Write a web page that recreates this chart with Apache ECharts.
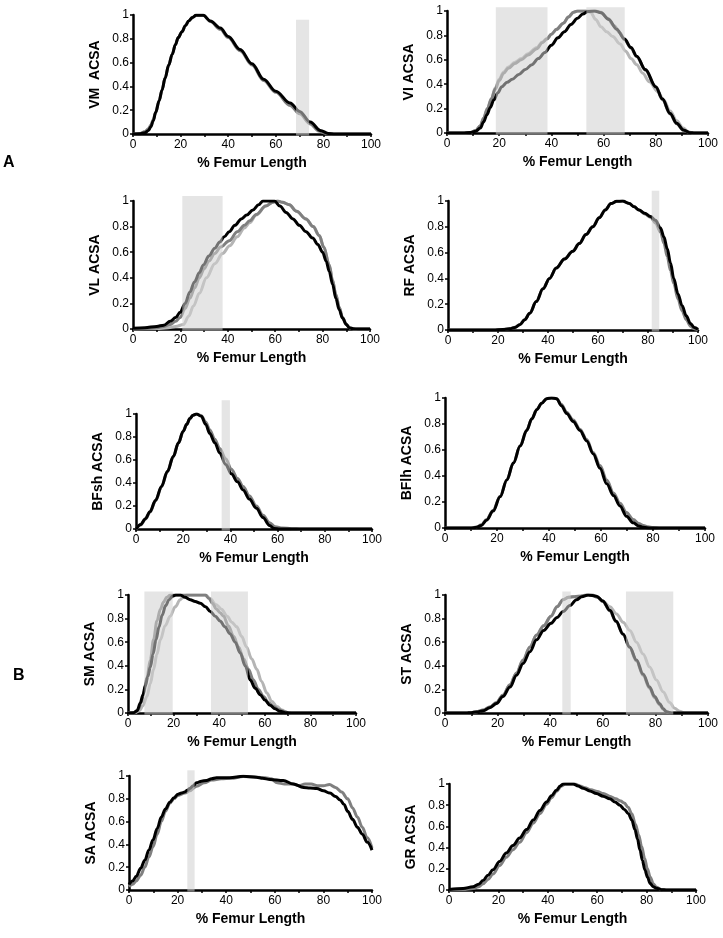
<!DOCTYPE html>
<html><head><meta charset="utf-8">
<script src="https://cdn.jsdelivr.net/npm/echarts@6/dist/echarts.min.js"></script>
<style>html,body{margin:0;padding:0;background:#fff}#c{width:723px;height:938px}</style>
</head><body><div id="c"></div>
<script>
// ---------- DATA ----------
const xTickLabels = [0, 20, 40, 60, 80, 100];
const yTickLabels = [0, 0.2, 0.4, 0.6, 0.8, 1];
const panelNames = ['VM  ACSA','VI ACSA','VL ACSA','RF ACSA','BFsh ACSA','BFlh ACSA','SM ACSA','ST ACSA','SA ACSA','GR ACSA'];
const xTitle = '% Femur Length';

const VM_black = [[0,0],[3,0.003],[5,0.01],[6.5,0.03],[7.5,0.06],[8.5,0.11],[9.5,0.18],[11,0.28],[12.2,0.37],[13.5,0.47],[15,0.58],[16.5,0.67],[17.8,0.75],[19,0.81],[20.6,0.86],[22,0.91],[23.4,0.95],[25,0.98],[26.5,0.997],[29.5,0.997],[32.5,0.95],[36.7,0.89],[40,0.82],[45,0.71],[50,0.59],[54.9,0.46],[60,0.36],[66,0.26],[70,0.19],[74.5,0.10],[78.7,0.03],[82,0.005],[85,0],[100,0]];
const VM_dark = [[0,0],[3,0.005],[5,0.02],[6.5,0.045],[7.5,0.075],[8.5,0.12],[9.5,0.18],[11,0.28],[12.2,0.37],[13.5,0.47],[15,0.58],[16.5,0.67],[17.8,0.75],[19,0.81],[20.6,0.86],[22,0.91],[23.4,0.95],[25,0.98],[26.5,0.997],[29.5,0.997],[32.5,0.945],[36.7,0.88],[40,0.81],[45,0.70],[50,0.58],[54.9,0.45],[60,0.35],[66,0.24],[70,0.17],[74.5,0.085],[78,0.025],[81,0.005],[84,0],[100,0]];
const VM_shade = [[68.5,74,0.96]];

const VI_black = [[0,0],[6,0],[9,0.004],[11,0.015],[12.8,0.04],[14,0.09],[15.3,0.15],[16.6,0.21],[17.9,0.27],[19.5,0.33],[21,0.38],[23,0.415],[25,0.44],[27.5,0.48],[30,0.52],[32.5,0.56],[35,0.61],[37.5,0.66],[40,0.72],[42.5,0.78],[45,0.83],[47.5,0.89],[50,0.94],[52,0.975],[54,0.995],[56.5,1.0],[59,0.985],[62,0.93],[65,0.85],[68,0.77],[70.5,0.70],[72.7,0.63],[76,0.52],[80,0.38],[82.5,0.28],[85.5,0.16],[88,0.08],[90.6,0.025],[93,0.003],[95,0],[100,0]];
const VI_dark = [[0,0],[6,0],[9,0.005],[11,0.02],[12.8,0.06],[14,0.12],[15.5,0.2],[17,0.28],[18.5,0.36],[20,0.43],[21.7,0.49],[23.5,0.53],[26,0.57],[28.5,0.60],[31,0.64],[34.4,0.69],[36.5,0.74],[38.3,0.77],[40,0.81],[42,0.85],[44.6,0.90],[46.5,0.95],[48.5,0.99],[50,1.0],[53,1.0],[57,1.0],[59,0.99],[61.5,0.94],[64,0.88],[66.3,0.82],[68,0.765],[70.5,0.695],[72.7,0.625],[76,0.515],[80,0.375],[82.5,0.275],[85.5,0.155],[88,0.075],[90.6,0.022],[93,0.002],[95,0],[100,0]];
const VI_light = [[0,0],[6,0],[9,0.005],[11,0.02],[12.8,0.06],[14,0.12],[15.5,0.2],[17,0.28],[18.5,0.37],[20,0.44],[21.7,0.50],[23.5,0.54],[26,0.58],[28.5,0.61],[31,0.65],[34.4,0.70],[36.5,0.745],[38.3,0.775],[40,0.81],[42,0.85],[44.6,0.90],[46.5,0.95],[48.5,0.99],[50,1.0],[53,1.0],[55,0.99],[57,0.93],[59,0.87],[61.2,0.83],[63.5,0.79],[66.3,0.73],[68.5,0.67],[70.5,0.61],[72.7,0.56],[75,0.49],[77.5,0.42],[80.8,0.34],[83,0.27],[85.5,0.18],[88,0.10],[90.5,0.04],[92.5,0.01],[94,0],[100,0]];
const VI_shade = [[18.7,38.5,1.03],[53.4,68.1,1.03]];

const VL_black = [[0,0.005],[5,0.01],[10,0.02],[13,0.03],[15.7,0.06],[18,0.09],[19.9,0.13],[22,0.2],[24,0.29],[26,0.37],[28,0.44],[29.7,0.5],[32,0.57],[34.5,0.63],[36.6,0.68],[38.5,0.72],[40.6,0.76],[43,0.81],[45.7,0.86],[48,0.89],[50.6,0.93],[53,0.97],[54.8,1.0],[59.7,1.0],[62,0.96],[64.6,0.91],[67.5,0.86],[70.2,0.81],[73,0.76],[75.8,0.71],[78,0.66],[80,0.6],[81.5,0.53],[82.8,0.45],[84.2,0.35],[85.6,0.24],[87,0.15],[88.4,0.085],[90,0.035],[91.2,0.01],[93,0.002],[95,0],[100,0]];
const VL_dark = [[0,0],[5,0.003],[10,0.01],[13,0.02],[15.7,0.035],[18,0.06],[19.9,0.09],[22,0.16],[24,0.24],[26,0.32],[28,0.4],[30,0.47],[32,0.53],[34.5,0.59],[37,0.64],[40.6,0.69],[44,0.76],[47,0.81],[49.2,0.845],[52,0.895],[56,0.96],[59,0.99],[61,1.0],[63,0.99],[66,0.97],[69,0.92],[73,0.86],[76,0.8],[78.6,0.73],[80.5,0.64],[82.8,0.5],[84.2,0.38],[85.6,0.27],[87,0.17],[88.4,0.09],[90,0.035],[91.5,0.008],[93,0],[100,0]];
const VL_light = [[0,0],[10,0.003],[15,0.01],[18,0.02],[21.3,0.035],[23.5,0.1],[25.5,0.18],[28,0.28],[31,0.4],[34.5,0.51],[37.8,0.59],[40.8,0.65],[44,0.72],[47,0.79],[49.2,0.83],[52,0.89],[56,0.96],[59,0.99],[61,1.0],[63,0.99],[66,0.97],[69,0.92],[73,0.86],[76,0.8],[78.6,0.73],[80.5,0.64],[82.8,0.5],[84.2,0.38],[85.6,0.27],[87,0.17],[88.4,0.09],[90,0.035],[91.5,0.008],[93,0],[100,0]];
const VL_shade = [[20.8,37.8,1.04]];

const RF_black = [[0,0],[18,0],[22,0.003],[24.8,0.01],[26.8,0.02],[28.7,0.04],[30.7,0.08],[32.7,0.13],[35.3,0.22],[38,0.32],[40.6,0.4],[43.3,0.48],[46.6,0.55],[49.9,0.61],[52.5,0.67],[55.2,0.74],[57.9,0.8],[60.5,0.87],[62.9,0.93],[65.2,0.98],[67.5,0.998],[69.8,1.0],[72.5,0.98],[74.5,0.955],[76.4,0.93],[78.7,0.905],[81,0.88],[83,0.85],[85,0.79],[86.4,0.72],[87.7,0.63],[89,0.52],[90.3,0.4],[92,0.28],[93.6,0.19],[95.3,0.11],[97,0.05],[98.5,0.02],[100,0.005]];
const RF_dark = [[0,0],[18,0],[22,0.004],[24.8,0.012],[26.8,0.022],[28.7,0.042],[30.7,0.08],[32.7,0.13],[35.3,0.22],[38,0.32],[40.6,0.4],[43.3,0.48],[46.6,0.55],[49.9,0.61],[52.5,0.67],[55.2,0.74],[57.9,0.8],[60.5,0.87],[62.9,0.93],[65.2,0.98],[67.5,0.998],[69.8,1.0],[72.5,0.98],[74.5,0.955],[76.4,0.93],[78.7,0.9],[81,0.875],[83,0.83],[85,0.76],[86.4,0.67],[87.7,0.57],[89,0.46],[90.3,0.36],[92,0.24],[93.6,0.15],[95.3,0.08],[97,0.03],[98.5,0.01],[100,0]];
const RF_shade = [[81.5,84.5,1.08]];

const BFsh_black = [[0,0],[2,0.04],[4,0.09],[5.9,0.15],[8.3,0.25],[10.8,0.37],[13.3,0.5],[15.8,0.63],[18,0.75],[20,0.85],[21.5,0.91],[22.8,0.96],[24.2,0.99],[25.6,1.0],[27.7,0.98],[29.5,0.91],[31.3,0.83],[33.4,0.75],[35.5,0.66],[38,0.56],[40.4,0.48],[43,0.41],[45.4,0.34],[48,0.26],[51,0.18],[53.8,0.1],[56.6,0.03],[58.5,0.005],[61,0],[100,0]];
const BFsh_dark = [[0,0],[2,0.035],[4,0.085],[5.9,0.145],[8.3,0.245],[10.8,0.365],[13.3,0.5],[15.8,0.63],[18,0.75],[20,0.85],[21.5,0.91],[22.8,0.96],[24.2,0.99],[25.6,1.0],[27.7,0.985],[29.5,0.93],[31.3,0.86],[33.4,0.78],[35.5,0.7],[38,0.61],[40.4,0.52],[43,0.44],[45.4,0.37],[48,0.29],[51,0.2],[53.8,0.12],[56.6,0.055],[59,0.02],[62,0.008],[66,0.003],[70,0],[100,0]];
const BFsh_shade = [[36.3,39.8,1.12]];

const BFlh_black = [[0,0],[10,0],[12.2,0.005],[14,0.02],[16,0.06],[18.5,0.13],[21.2,0.24],[23.8,0.37],[26.3,0.5],[28.9,0.63],[31.4,0.75],[33.4,0.84],[35.3,0.91],[37.2,0.96],[39.1,0.995],[41,1.0],[42.9,0.995],[44.8,0.94],[46.8,0.88],[49.3,0.82],[51.9,0.75],[54.5,0.67],[57,0.57],[59.6,0.46],[62.2,0.34],[64.8,0.25],[67.3,0.17],[69.8,0.09],[72.4,0.04],[74.5,0.015],[76.3,0.005],[79,0],[100,0]];
const BFlh_dark = [[0,0],[10,0],[12.2,0.007],[14,0.025],[16,0.065],[18.5,0.135],[21.2,0.245],[23.8,0.37],[26.3,0.5],[28.9,0.63],[31.4,0.75],[33.4,0.84],[35.3,0.91],[37.2,0.96],[39.1,0.995],[41,1.0],[42.9,0.995],[44.8,0.95],[46.8,0.89],[49.3,0.83],[51.9,0.76],[54.5,0.68],[57,0.58],[59.6,0.48],[62.2,0.37],[64.8,0.27],[67.3,0.19],[69.8,0.12],[72.4,0.065],[74.5,0.035],[76.3,0.02],[78,0.01],[80,0.004],[83,0],[100,0]];
const BFlh_shade = [];

const SM_black = [[0,0],[2.5,0.002],[4,0.02],[5.4,0.085],[6.5,0.15],[7.6,0.23],[8.7,0.31],[9.8,0.39],[11,0.5],[12.3,0.62],[13.6,0.73],[15,0.83],[16.5,0.91],[18,0.96],[19.5,0.99],[21,1.0],[23,1.0],[25,0.98],[27.3,0.96],[29.5,0.945],[31.7,0.93],[34,0.9],[36.1,0.86],[38.3,0.82],[40.4,0.78],[42.5,0.73],[44.8,0.67],[47,0.6],[49.2,0.51],[51.4,0.4],[53.6,0.28],[55.8,0.21],[58,0.155],[60,0.11],[62.3,0.065],[64.5,0.035],[66.7,0.014],[69,0.003],[71,0],[100,0]];
const SM_dark = [[0,0],[3,0.003],[4.5,0.03],[5.8,0.09],[6.9,0.17],[8.3,0.3],[9.8,0.45],[11.2,0.62],[12.7,0.78],[14.2,0.88],[15.6,0.94],[17,0.98],[18.5,1.0],[22,1.0],[26,1.0],[30,1.0],[33.9,1.0],[35.5,0.97],[37,0.93],[38.8,0.88],[40.4,0.85],[41.9,0.82],[44,0.74],[46.3,0.65],[48.5,0.56],[50.7,0.46],[52.8,0.37],[55,0.28],[57.2,0.2],[59.4,0.14],[61.6,0.09],[63.8,0.056],[66,0.03],[68.2,0.014],[70,0.004],[72,0],[100,0]];
const SM_light = [[0,0],[3,0.002],[5,0.02],[6.5,0.06],[8.3,0.14],[9.8,0.25],[11.2,0.37],[12.7,0.5],[14.2,0.62],[16.3,0.74],[18.5,0.82],[20.7,0.9],[22.9,0.96],[24.5,0.99],[25.8,1.0],[30,1.0],[34,1.0],[36,0.97],[38.5,0.92],[41,0.88],[43.5,0.82],[45.5,0.77],[47.7,0.73],[49.8,0.65],[52,0.56],[54.2,0.46],[56.5,0.37],[58.5,0.27],[60.9,0.17],[63,0.1],[65.3,0.056],[67.5,0.025],[69.5,0.007],[71,0],[100,0]];
const SM_shade = [[7.2,19.6,1.03],[36.4,52.6,1.03]];

const ST_black = [[0,0],[8,0],[10,0.003],[12,0.008],[14.6,0.02],[17,0.045],[19.6,0.08],[22,0.14],[24.7,0.22],[27.2,0.32],[29.7,0.42],[32.3,0.52],[34.8,0.62],[37.5,0.7],[40.3,0.76],[42.6,0.81],[44.9,0.86],[47.5,0.91],[50,0.96],[52,0.985],[54.4,1.0],[57.6,0.99],[60,0.95],[62.7,0.87],[65,0.78],[67.7,0.67],[70.2,0.56],[72.8,0.45],[75.3,0.33],[77.8,0.22],[79.7,0.14],[81.6,0.08],[83,0.035],[84.2,0.01],[86,0],[100,0]];
const ST_dark = [[0,0],[8,0],[10,0.003],[12,0.01],[14.6,0.025],[17,0.05],[19.6,0.09],[22,0.15],[24.7,0.24],[27.2,0.34],[29.7,0.45],[32.3,0.56],[34.8,0.66],[37.5,0.74],[40.3,0.82],[42.6,0.9],[44.9,0.96],[47,0.98],[48.7,0.985],[51,0.99],[53.8,1.0],[56,1.0],[58,0.98],[60,0.945],[62.7,0.865],[65,0.775],[67.7,0.665],[70.2,0.555],[72.8,0.44],[75.3,0.32],[77.8,0.21],[79.7,0.13],[81.6,0.07],[83,0.03],[84.5,0.008],[86,0],[100,0]];
const ST_light = [[0,0],[8,0],[10,0.003],[12,0.01],[14.6,0.025],[17,0.05],[19.6,0.09],[22,0.15],[24.7,0.24],[27.2,0.34],[29.7,0.45],[32.3,0.56],[34.8,0.66],[37.5,0.74],[40.3,0.82],[42.6,0.9],[44.9,0.96],[47,0.98],[48.7,0.985],[51,0.99],[53.8,1.0],[56,1.0],[58,0.98],[60,0.95],[62.7,0.9],[65.2,0.84],[67.7,0.77],[70.3,0.7],[72.8,0.6],[75.3,0.5],[77.8,0.39],[80.4,0.28],[82.9,0.18],[85.4,0.09],[87.3,0.04],[89.2,0.015],[91,0],[100,0]];
const ST_shade = [[44.6,47.8,1.03],[68.8,86.8,1.03]];

const SA_black = [[0,0.05],[1.5,0.08],[3,0.12],[4.8,0.19],[6.5,0.26],[8.2,0.35],[9.9,0.44],[11.6,0.54],[13.3,0.64],[15,0.71],[16.8,0.77],[18.5,0.81],[20.2,0.84],[21.6,0.85],[23,0.86],[24,0.875],[25,0.89],[26.4,0.915],[27.8,0.94],[29.8,0.955],[31.9,0.96],[34,0.975],[36,0.985],[41.5,0.985],[47,0.997],[52.5,0.99],[55,0.98],[58,0.97],[63.5,0.96],[67.6,0.93],[71.8,0.9],[74.5,0.895],[77.3,0.89],[80,0.87],[82.7,0.85],[85,0.82],[86.9,0.79],[88.5,0.75],[90,0.69],[92,0.62],[94,0.55],[96,0.49],[98,0.42],[100,0.35]];
const SA_dark = [[0,0.03],[1.5,0.05],[3,0.08],[4.8,0.13],[6.5,0.2],[8.2,0.29],[9.9,0.38],[11.6,0.49],[13.3,0.6],[15,0.69],[16.8,0.76],[18.5,0.8],[20.2,0.83],[23,0.85],[25,0.87],[27.8,0.91],[31,0.94],[34,0.965],[38,0.975],[42,0.98],[47,0.995],[52.5,0.99],[56,0.985],[58.5,0.975],[61,0.94],[64,0.93],[67.6,0.93],[70,0.915],[72.5,0.93],[75,0.93],[77.5,0.915],[80,0.915],[82.5,0.925],[85,0.9],[87.5,0.86],[90,0.8],[92,0.72],[94,0.64],[96,0.55],[98,0.46],[100,0.37]];
const SA_shade = [[24,27,1.05]];

const GR_black = [[0,0.005],[5.7,0.015],[9.7,0.03],[12,0.055],[13.8,0.09],[15.8,0.14],[17.8,0.19],[20.5,0.27],[23.2,0.35],[25.9,0.42],[28.6,0.49],[31.4,0.57],[34.1,0.66],[36.8,0.75],[39.5,0.83],[41.5,0.89],[43.5,0.94],[45,0.98],[46.2,1.0],[50.3,1.0],[52.3,0.98],[54.3,0.96],[57,0.935],[59.7,0.91],[62.4,0.885],[65.1,0.86],[67.2,0.83],[69.2,0.8],[71,0.76],[72.6,0.72],[74,0.66],[75.3,0.57],[76.3,0.48],[77.3,0.38],[78.3,0.28],[79.3,0.19],[80.4,0.12],[81.4,0.063],[82.7,0.03],[84,0.016],[86,0.003],[88,0],[100,0]];
const GR_dark = [[0,0],[5.7,0.005],[9.7,0.015],[12,0.03],[13.8,0.06],[15.8,0.1],[17.8,0.15],[20.5,0.23],[23.2,0.31],[25.9,0.38],[28.6,0.45],[31.4,0.54],[34.1,0.63],[36.8,0.72],[39.5,0.81],[41.5,0.87],[43.5,0.93],[45.5,0.98],[47,1.0],[51,1.0],[53,0.98],[55,0.965],[57.5,0.945],[60,0.93],[62.5,0.91],[65,0.885],[67.5,0.86],[69.5,0.84],[71,0.82],[72.5,0.78],[74,0.72],[75.5,0.62],[76.8,0.52],[78,0.41],[79.2,0.3],[80.3,0.2],[81.5,0.12],[82.7,0.06],[84,0.025],[86,0.005],[88,0],[100,0]];
const GR_shade = [];

// ---------- LAYOUT / STYLE ----------
const panels = [
  {name: panelNames[0], black: VM_black, dark: VM_dark, light: null, shade: VM_shade, box:[133,15,238,119]},
  {name: panelNames[1], black: VI_black, dark: VI_dark, light: VI_light, shade: VI_shade, box:[447,11,261,122]},
  {name: panelNames[2], black: VL_black, dark: VL_dark, light: VL_light, shade: VL_shade, box:[133,201,237,128]},
  {name: panelNames[3], black: RF_black, dark: RF_dark, light: null, shade: RF_shade, box:[448,201,250,129]},
  {name: panelNames[4], black: BFsh_black, dark: BFsh_dark, light: null, shade: BFsh_shade, box:[136,414,236,115]},
  {name: panelNames[5], black: BFlh_black, dark: BFlh_dark, light: null, shade: BFlh_shade, box:[445,398,260,130]},
  {name: panelNames[6], black: SM_black, dark: SM_dark, light: SM_light, shade: SM_shade, box:[128,595,228,118]},
  {name: panelNames[7], black: ST_black, dark: ST_dark, light: ST_light, shade: ST_shade, box:[445,595,263,118]},
  {name: panelNames[8], black: SA_black, dark: SA_dark, light: null, shade: SA_shade, box:[129,776,243,114]},
  {name: panelNames[9], black: GR_black, dark: GR_dark, light: null, shade: GR_shade, box:[449,784,247,106]}
];

const FONT = 'Liberation Sans, Arial, sans-serif';
const grid = [], xAxis = [], yAxis = [], series = [];
panels.forEach((p, i) => {
  grid.push({left: p.box[0], top: p.box[1], width: p.box[2], height: p.box[3], containLabel: false});
  xAxis.push({
    type: 'value', gridIndex: i, min: 0, max: 100, interval: 10,
    name: xTitle, nameLocation: 'middle', nameGap: 22,
    nameTextStyle: {fontFamily: FONT, fontSize: 14, fontWeight: 'bold', color: '#000'},
    axisLine: {show: true, lineStyle: {color: '#000', width: 2.5}},
    axisTick: {show: true, length: 3, lineStyle: {color: '#000', width: 1.5}},
    axisLabel: {fontFamily: FONT, fontSize: 12, color: '#000', margin: 5,
      formatter: v => (xTickLabels.indexOf(v) >= 0 ? String(v) : '')},
    splitLine: {show: false}
  });
  yAxis.push({
    type: 'value', gridIndex: i, min: yTickLabels[0], max: yTickLabels[yTickLabels.length-1], interval: 0.2,
    name: p.name, nameLocation: 'middle', nameGap: 31, nameRotate: 90,
    nameTextStyle: {fontFamily: FONT, fontSize: 14, fontWeight: 'bold', color: '#000'},
    axisLine: {show: true, lineStyle: {color: '#000', width: 2.5}},
    axisTick: {show: true, length: 3, lineStyle: {color: '#000', width: 1.5}},
    axisLabel: {fontFamily: FONT, fontSize: 12, color: '#000', margin: 4},
    splitLine: {show: false}
  });
  const lineSeries = (data, color) => ({
    type: 'line', xAxisIndex: i, yAxisIndex: i, data: data, showSymbol: false, symbol: 'none',
    smooth: 0.35, smoothMonotone: 'x', lineStyle: {color: color, width: 3}, z: 2, silent: true, animation: false
  });
  if (p.light) series.push(lineSeries(p.light, '#b5b5b5'));
  series.push(lineSeries(p.dark, '#808080'));
  series.push(lineSeries(p.black, '#000000'));
  if (p.shade.length) {
    series.push({
      type: 'custom', xAxisIndex: i, yAxisIndex: i, data: p.shade, clip: false, z: 5, silent: true, animation: false,
      renderItem: (params, api) => {
        const a = api.coord([api.value(0), 0]);
        const b = api.coord([api.value(1), api.value(2)]);
        return {type: 'rect', shape: {x: a[0], y: b[1], width: b[0]-a[0], height: a[1]-b[1]+1.5},
          style: {fill: 'rgba(208,208,208,0.55)'}};
      }
    });
  }
});

const chart = echarts.init(document.getElementById('c'), null, {renderer: 'canvas'});
chart.setOption({
  animation: false,
  backgroundColor: '#fff',
  grid, xAxis, yAxis, series,
  graphic: [
    {type: 'text', left: 3, top: 155, style: {text: 'A', font: 'bold 16px ' + FONT, fill: '#000'}},
    {type: 'text', left: 13, top: 668, style: {text: 'B', font: 'bold 16px ' + FONT, fill: '#000'}}
  ]
});
</script></body></html>
